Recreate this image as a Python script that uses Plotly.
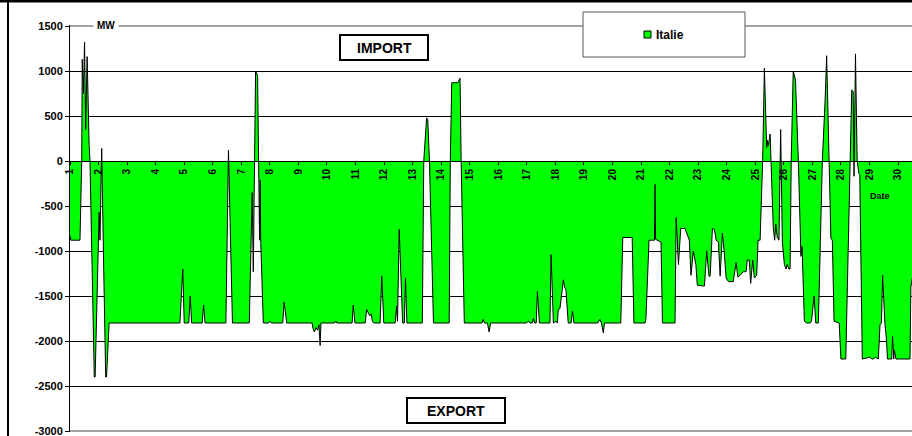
import plotly.graph_objects as go

# hourly exchange balance with Italy (day of month, MW)
day = [1.00, 1.03, 1.35, 1.41, 1.43, 1.47, 1.51, 1.55, 1.60, 1.63, 1.67, 1.70, 1.85, 1.88,
       2.02, 2.05, 2.11, 2.17, 2.25, 2.28, 2.37, 4.85, 4.95, 5.00, 5.16, 5.21, 5.26, 5.63,
       5.68, 5.73, 6.46, 6.55, 6.69, 7.28, 7.38, 7.42, 7.47, 7.50, 7.57, 7.62, 7.64, 7.66,
       7.68, 7.77, 7.95, 8.00, 8.05, 8.45, 8.50, 8.59, 9.48, 9.51, 9.56, 9.62, 9.67, 9.72,
       9.76, 9.79, 10.27, 10.31, 10.35, 10.88, 10.92, 10.98, 11.34, 11.39, 11.47, 11.50,
       11.55, 11.59, 11.64, 11.86, 11.92, 11.99, 12.39, 12.44, 12.47, 12.53, 12.65, 12.71,
       12.75, 12.80, 13.34, 13.39, 13.49, 13.53, 13.59, 13.73, 14.28, 14.32, 14.37, 14.58,
       14.66, 14.70, 14.81, 15.43, 15.47, 15.52, 15.62, 15.68, 15.73, 16.99, 17.05, 17.11,
       17.19, 17.23, 17.27, 17.33, 17.37, 17.44, 17.81, 17.85, 17.93, 18.02, 18.07, 18.10,
       18.16, 18.28, 18.32, 18.37, 18.45, 18.55, 18.60, 18.65, 19.48, 19.56, 19.61, 19.68,
       19.72, 20.29, 20.36, 20.69, 20.75, 21.14, 21.17, 21.28, 21.47, 21.49, 21.51, 21.70,
       21.75, 22.19, 22.23, 22.31, 22.39, 22.54, 22.60, 22.69, 22.75, 22.83, 22.92, 22.97,
       23.22, 23.30, 23.38, 23.42, 23.50, 23.57, 23.63, 23.71, 23.77, 23.85, 23.91, 23.98,
       24.06, 24.23, 24.33, 24.39, 24.47, 24.58, 24.68, 24.72, 24.79, 24.84, 24.91, 24.97,
       25.05, 25.10, 25.17, 25.26, 25.32, 25.40, 25.43, 25.46, 25.52, 25.55, 25.63, 25.68,
       25.72, 25.77, 25.83, 25.89, 25.95, 26.02, 26.08, 26.12, 26.18, 26.22, 26.26, 26.33,
       26.41, 26.51, 26.60, 26.64, 26.72, 26.80, 26.92, 26.97, 27.06, 27.12, 27.21, 27.35,
       27.40, 27.45, 27.50, 27.54, 27.59, 27.65, 27.70, 27.76, 27.94, 28.00, 28.17, 28.32,
       28.38, 28.43, 28.46, 28.51, 28.57, 28.63, 28.66, 28.75, 29.02, 29.08, 29.14, 29.20,
       29.31, 29.37, 29.42, 29.46, 29.54, 29.60, 29.63, 29.78, 29.81, 29.85, 29.87, 29.93,
       30.42, 30.45, 30.50]
mw = [-830, -880, -880, 0, 1130, 750, 1320, 350, 1160, 570, 180, 0, -2400, -2400,
      -570, -880, 140, -1000, -2400, -2400, -1800, -1800, -1200, -1800, -1800, -1500, -1800, -1800,
      -1600, -1800, -1800, 120, -1800, -1800, -350, -1230, 0, 1000, 950, 0, -880, -210,
      -880, -1800, -1800, -1780, -1800, -1800, -1570, -1800, -1800, -1860, -1900, -1850, -1880, -1820,
      -2050, -1800, -1800, -1780, -1800, -1800, -1600, -1800, -1800, -1650, -1700, -1720,
      -1700, -1780, -1800, -1800, -1280, -1800, -1800, -1610, -1780, -760, -1800, -1800,
      -1300, -1800, -1800, 0, 480, 460, 0, -1800, -1800, 0, 870, 870,
      920, 0, -1800, -1800, -1760, -1800, -1800, -1900, -1800, -1800, -1780, -1800,
      -1800, -1750, -1800, -1800, -1450, -1800, -1800, -1040, -1800, -1780, -1800, -1650,
      -1640, -1320, -1400, -1430, -1800, -1800, -1670, -1800, -1800, -1760, -1800, -1910,
      -1800, -1800, -850, -850, -1800, -1800, -1760, -880, -880, -260, -870, -900,
      -1800, -1800, -630, -1150, -750, -750, -800, -880, -1270, -1000, -1150, -1380,
      -1390, -1000, -1280, -1280, -750, -760, -880, -900, -1280, -800, -1000, -1300,
      -1340, -1340, -1130, -1290, -1270, -1230, -1230, -1100, -1100, -1360, -1100, -1300,
      -1270, -880, -880, 0, 1030, 150, 230, 170, 300, 0, -730, -880,
      -700, -850, -880, 350, -900, -1150, -1200, -1150, -1200, -1200, 0, 1000,
      900, 0, -1060, -950, -1780, -1800, -1800, -1780, -1500, -1800, -1800, 0,
      300, 700, 1170, 600, 0, -860, -880, -1780, -1800, -2200, -2200, 0,
      790, 770, -170, 1190, 0, -140, -150, -2200, -2180, -2200, -2200, -2180,
      -2200, -1820, -1800, -1270, -1800, -2000, -2200, -2200, -1950, -2200, -2100, -2200,
      -2200, -1400, -1300]

day_ticks = list(range(1, 31))
y_ticks = [1500, 1000, 500, 0, -500, -1000, -1500, -2000, -2500, -3000]

W, H = 912, 436
L, R, T, B = 70, 0, 25, 4
PW, PH = W - L - R, H - T - B


def px(x):
    return (x - L) / PW


def py(y):
    return (H - B - y) / PH


FONT = "Arial, Liberation Sans, sans-serif"

fig = go.Figure()
fig.add_trace(go.Scatter(
    x=day, y=mw, mode="lines", fill="tozeroy",
    fillcolor="#00ff00", line=dict(color="black", width=1),
    name="Italie", showlegend=False))

fig.update_layout(
    width=W, height=H, autosize=False,
    margin=dict(l=L, r=R, t=T, b=B, pad=0),
    plot_bgcolor="white", paper_bgcolor="white",
    font=dict(family=FONT, color="black"),
    xaxis=dict(
        range=[1, 30.49], anchor="free", position=py(161),
        tickvals=day_ticks, ticktext=[str(d) for d in day_ticks],
        tickangle=-90, tickfont=dict(size=10, weight="bold"),
        ticks="outside", ticklen=3, tickcolor="black",
        showline=True, linecolor="black", linewidth=1,
        showgrid=False, zeroline=False),
    yaxis=dict(
        range=[-3011.1, 1511.1], tickvals=y_ticks, ticktext=[str(v) for v in y_ticks],
        tickfont=dict(size=11, weight="bold"), ticklabeloverflow="allow",
        ticks="outside", ticklen=4, tickcolor="black",
        showline=True, linecolor="black", linewidth=1,
        showgrid=True, gridcolor="black", gridwidth=1, zeroline=False),
)

shapes = [
    # grid lines at the two ends of the value axis
    dict(type="line", xref="paper", yref="y", x0=0, x1=1, y0=y_ticks[0], y1=y_ticks[0],
         line=dict(color="#444444", width=1), layer="below"),
    dict(type="line", xref="paper", yref="y", x0=0, x1=1, y0=y_ticks[-1], y1=y_ticks[-1],
         line=dict(color="#444444", width=1), layer="below"),
    # chart frame (top and left edges visible)
    dict(type="line", xref="paper", yref="paper", x0=px(0), x1=px(W), y0=py(1), y1=py(1),
         line=dict(color="black", width=3)),
    dict(type="line", xref="paper", yref="paper", x0=px(8), x1=px(8), y0=py(0), y1=py(H),
         line=dict(color="black", width=2)),
    # legend box
    dict(type="rect", xref="paper", yref="paper", x0=px(583), x1=px(745), y0=py(57), y1=py(12),
         fillcolor="white", line=dict(color="#555555", width=1)),
    dict(type="rect", xref="paper", yref="paper", x0=px(644), x1=px(651), y0=py(38), y1=py(31),
         fillcolor="#00ff00", line=dict(color="black", width=1)),
    # IMPORT / EXPORT boxes
    dict(type="rect", xref="paper", yref="paper", x0=px(340), x1=px(428), y0=py(60), y1=py(35),
         fillcolor="white", line=dict(color="black", width=2)),
    dict(type="rect", xref="paper", yref="paper", x0=px(407), x1=px(505), y0=py(423), y1=py(398),
         fillcolor="white", line=dict(color="black", width=2)),
]
fig.update_layout(shapes=shapes)

annotations = [
    dict(text="MW", x=px(106), y=py(25), bgcolor="white",
         font=dict(size=10, weight="bold"), borderpad=3),
    dict(text="Italie", x=px(654), y=py(34.5), xanchor="left",
         font=dict(size=12, weight="bold")),
    dict(text="IMPORT", x=px(384), y=py(47.5), font=dict(size=14, weight="bold")),
    dict(text="EXPORT", x=px(456), y=py(410.5), font=dict(size=14, weight="bold")),
    dict(text="Date", x=px(880), y=py(196), font=dict(size=9, weight="bold")),
]
for a in annotations:
    a.setdefault("xanchor", "center")
    a.update(xref="paper", yref="paper", yanchor="middle", showarrow=False)
fig.update_layout(annotations=annotations)

fig.write_html("out.html", config={"displayModeBar": False},
               post_script="document.body.style.margin='0';")
